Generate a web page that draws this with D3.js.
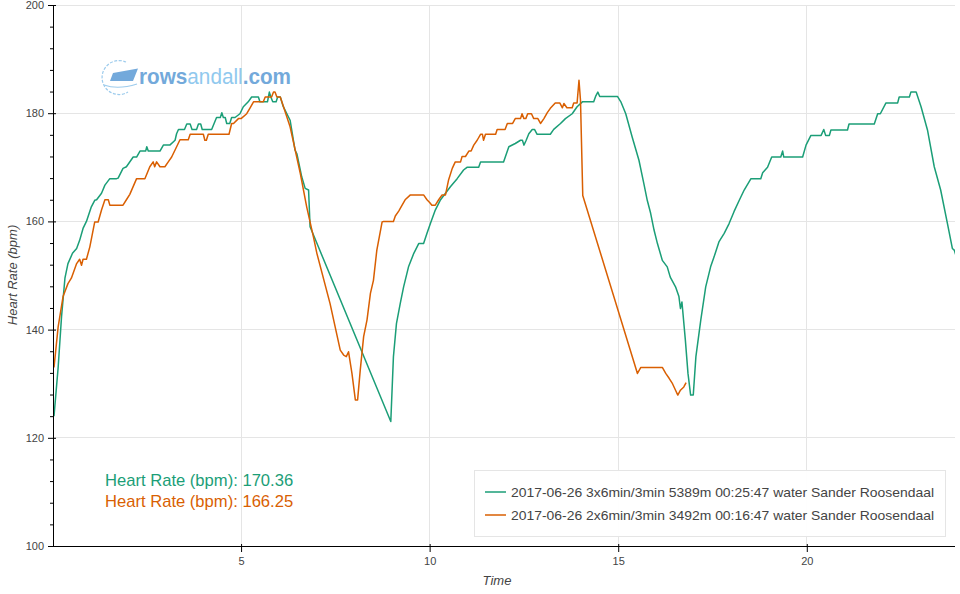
<!DOCTYPE html>
<html><head><meta charset="utf-8">
<script src="https://cdn.jsdelivr.net/npm/d3@7"></script>
<style>body{margin:0;background:#fff}svg{display:block}</style>
</head><body><svg id="c" width="960" height="594"></svg>
<script>
// ---- data (time in minutes, heart rate in bpm) ----
const greenT=[0.04,0.15,0.24,0.33,0.41,0.53,0.64,0.72,0.81,0.90,1.03,1.12,1.17,1.30,1.39,1.52,1.70,1.74,1.87,1.96,2.14,2.23,2.32,2.47,2.50,2.54,2.85,2.94,3.11,3.25,3.29,3.34,3.50,3.56,3.65,3.70,3.82,3.87,3.93,3.97,4.22,4.35,4.45,4.49,4.53,4.58,4.62,4.70,4.75,4.84,4.97,5.06,5.19,5.28,5.46,5.50,5.70,5.75,5.79,5.84,5.93,5.97,6.04,6.12,6.30,6.43,6.48,6.61,6.70,6.79,6.83,8.97,9.04,9.12,9.22,9.31,9.44,9.58,9.71,9.84,9.93,10.02,10.15,10.28,10.42,10.55,10.73,10.90,10.99,11.30,11.35,11.96,12.10,12.27,12.41,12.46,12.50,12.56,12.63,12.72,12.78,12.85,13.20,13.29,13.47,13.60,13.78,13.91,14.05,14.35,14.40,14.46,14.51,14.98,15.07,15.20,15.37,15.55,15.68,15.77,15.86,15.95,16.04,16.17,16.30,16.38,16.52,16.61,16.65,16.69,16.78,16.85,16.92,16.99,17.06,17.19,17.32,17.45,17.54,17.67,17.81,17.94,18.07,18.21,18.34,18.52,18.78,18.83,18.96,19.07,19.31,19.36,19.39,19.89,19.98,20.11,20.38,20.45,20.50,20.60,20.64,21.08,21.12,21.79,21.88,21.95,22.10,22.41,22.45,22.72,22.76,22.90,23.03,23.20,23.38,23.55,23.73,23.86,23.91,23.98];
const greenHR=[124,133,142.4,149.5,152.2,154.1,155,156.5,158.7,160,162.7,163.9,164,165.2,166.7,167.9,167.9,168,169.8,170.1,171.9,171.9,173.0,173.0,173.8,173.0,173.0,174.1,174.1,175.0,176.2,177.0,177.0,178.0,178.0,177.0,177.0,178.0,178.0,177.0,177.0,179.2,179.2,180.1,179.2,179.2,178.1,178.1,179.2,179.2,179.9,181.2,182.1,183.0,183.0,182.1,182.1,183.9,183.0,182.1,182.1,183.0,183.0,181.2,178.7,173.2,172.5,168.2,166.1,165.8,159.0,123.0,135.0,141.1,144.8,147.9,151.6,154.1,155.9,155.9,157.8,159.6,162.1,163.9,165.2,166.4,167.9,169.5,170.0,170.0,171.0,171.0,173.8,174.4,175.0,175.0,174.1,175.0,176.2,177.0,177.0,176.1,176.1,177.0,178.1,179.0,179.9,181.2,182.1,182.1,183.1,183.9,183.1,183.1,182.1,179.9,175.6,171.3,167.0,163.9,161.5,158.4,155.9,152.8,151.6,149.7,147.9,146.1,143.9,145.1,138.1,131.9,127.9,127.9,135.0,141.8,147.9,151.6,153.4,156.2,157.8,159.6,161.8,163.9,165.8,167.9,167.9,169.0,170.0,171.9,171.9,173.0,171.9,171.9,174.1,175.9,175.9,177.0,175.9,175.9,176.9,176.9,178.0,178.0,179.9,179.9,181.9,181.9,183.0,183.0,183.9,183.9,181.2,176.9,170.1,165.8,159.6,155.0,154.7,153.1];

const orangeT=[0.04,0.15,0.28,0.41,0.50,0.64,0.72,0.77,0.81,0.90,0.99,1.12,1.21,1.30,1.39,1.48,1.52,1.87,1.96,2.05,2.23,2.45,2.58,2.67,2.71,2.76,2.85,2.98,3.07,3.16,3.25,3.38,3.60,3.65,4.00,4.04,4.08,4.13,4.68,4.75,4.80,4.93,5.00,5.15,5.24,5.33,5.59,5.64,5.81,5.86,5.90,5.95,6.04,6.30,6.57,6.74,6.92,7.01,7.36,7.63,7.72,7.79,7.85,7.94,8.03,8.09,8.16,8.25,8.34,8.43,8.51,8.60,8.74,8.78,9.04,9.09,9.18,9.27,9.35,9.49,9.84,9.93,10.00,10.06,10.15,10.24,10.33,10.42,10.50,10.60,10.68,10.82,10.86,10.95,11.04,11.10,11.17,11.26,11.35,11.40,11.43,11.48,11.75,11.79,12.00,12.06,12.20,12.27,12.41,12.45,12.50,12.55,12.60,12.70,12.76,12.87,12.94,13.03,13.12,13.20,13.33,13.45,13.52,13.56,13.64,13.78,13.82,13.91,13.96,14.00,14.06,15.51,15.60,16.17,16.26,16.35,16.44,16.52,16.58,16.65,16.74,16.80];
const orangeHR=[133,140.5,146.1,148.5,149.5,152.2,153.0,151.9,153.0,153.0,155.3,159.9,159.9,162.1,164.0,164.0,163.0,163.0,164.0,165.0,167.9,167.9,170.1,171.0,170.1,171.0,170.1,170.1,171.0,171.9,173.2,175.1,175.1,176.1,176.1,175.0,175.0,176.1,176.1,178.1,178.1,179.0,179.0,179.9,181.0,182.1,182.1,183.0,183.0,183.9,183.9,183.0,183.0,177.5,168.9,162.7,157.1,154.1,144.8,136.2,135.3,135.0,135.9,131.9,127.0,127.0,132.5,138.7,141.8,146.7,149.1,154.7,159.9,160.0,160.0,161.0,161.9,163.0,164.0,164.9,164.9,164.0,163.5,163.0,163.0,164.0,164.9,164.9,167.6,169.8,171.0,171.0,172.0,172.0,173.0,173.0,174.1,175.0,176.1,176.1,175.0,176.1,176.1,177.0,177.0,178.1,178.1,179.0,179.0,179.9,179.0,179.0,179.9,179.9,179.0,179.0,178.1,179.0,180.1,180.9,181.9,181.9,181.0,181.8,181.0,181.0,181.9,181.9,186.1,182.4,164.8,131.9,133.0,133.0,131.9,131.0,130.0,128.8,127.9,128.8,129.4,130.2];

const xTicks=[5,10,15,20];
const yTicks=[100,120,140,160,180,200];
const seriesNames=["2017-06-26 3x6min/3min 5389m 00:25:47 water Sander Roosendaal","2017-06-26 2x6min/3min 3492m 00:16:47 water Sander Roosendaal"];
const seriesColors=["#1b9e77","#d95f02"];
const avgLabels=["Heart Rate (bpm): 170.36","Heart Rate (bpm): 166.25"];

// ---- drawing ----
const FONT="'Liberation Sans', Arial, Helvetica, sans-serif";
const svg=d3.select("#c");
const L=54,R=955,T=5,B=546;
const x=d3.scaleLinear().domain([0.04,23.93]).range([L,R]);
const y=d3.scaleLinear().domain([100,200]).range([B,T]);

// grid
const g=svg.append("g");
g.selectAll("line.gx").data(xTicks).join("line")
  .attr("x1",d=>x(d)).attr("x2",d=>x(d)).attr("y1",T).attr("y2",B)
  .attr("stroke","#e5e5e5").attr("stroke-width",1).attr("shape-rendering","crispEdges");
g.selectAll("line.gy").data(yTicks.filter(d=>d>100)).join("line")
  .attr("x1",L).attr("x2",R).attr("y1",d=>y(d)).attr("y2",d=>y(d))
  .attr("stroke","#e5e5e5").attr("stroke-width",1).attr("shape-rendering","crispEdges");

// logo
const logo=svg.append("g").attr("opacity",0.85);
logo.append("path").attr("d","M126,62 A17,17 0 1 0 128,92")
  .attr("fill","none").attr("stroke","#8cc3ea").attr("stroke-width",1.2).attr("stroke-dasharray","3,1.5");
logo.append("path").attr("d","M110,81 L113,73 L138,68.5 L133,81 Z").attr("fill","#5b9bd5");
logo.append("path").attr("d","M104,85 Q118,90 137,84").attr("fill","none").attr("stroke","#8cc3ea").attr("stroke-width",1.2);
const lt=logo.append("text").attr("x",139).attr("y",84).attr("font-family",FONT).attr("font-size",22)
  .attr("textLength",152).attr("lengthAdjust","spacingAndGlyphs");
lt.append("tspan").attr("fill","#5b9bd5").attr("font-weight","bold").text("rows");
lt.append("tspan").attr("fill","#7dc0ec").text("andall");
lt.append("tspan").attr("fill","#5b9bd5").attr("font-weight","bold").text(".com");

// lines
const clip=svg.append("clipPath").attr("id","clp").append("rect").attr("x",L).attr("y",T).attr("width",R-L).attr("height",B-T);
const line=d3.line().x(d=>x(d[0])).y(d=>y(d[1]));
const gData=greenT.map((t,i)=>[t,greenHR[i]]);
const oData=orangeT.map((t,i)=>[t,orangeHR[i]]);
const lg=svg.append("g").attr("clip-path","url(#clp)");
lg.append("path").datum(gData).attr("d",line).attr("fill","none").attr("stroke",seriesColors[0]).attr("stroke-width",1.5).attr("stroke-linejoin","round");
lg.append("path").datum(oData).attr("d",line).attr("fill","none").attr("stroke",seriesColors[1]).attr("stroke-width",1.5).attr("stroke-linejoin","round");

// axes
const ax=svg.append("g").attr("transform",`translate(0,${B})`);
ax.call(d3.axisBottom(x).tickValues(xTicks).tickSize(6).tickPadding(5).tickFormat(d3.format("d")));
ax.select(".domain").attr("d",`M${L},0.5H${R}`);
ax.selectAll(".tick line").attr("y1",-2).attr("y2",6);
const ay=svg.append("g").attr("transform",`translate(${L},0)`);
ay.call(d3.axisLeft(y).tickValues(yTicks).tickSize(6).tickPadding(4).tickFormat(d3.format("d")));
ay.select(".domain").attr("d",`M-0.5,${T}V${B}`);
ay.selectAll(".tick line").attr("x1",2).attr("x2",-6);
const minor=d3.range(100,201,4).filter(d=>d%20!==0);
ay.selectAll("line.minor").data(minor).join("line").attr("class","minor")
  .attr("x1",0).attr("x2",-4).attr("y1",d=>y(d)+0.5).attr("y2",d=>y(d)+0.5).attr("stroke","#000");
[ax,ay].forEach(a=>{a.selectAll("text").attr("font-family",FONT).attr("font-size",11).attr("fill","#444");
  a.selectAll("path,line").attr("stroke","#000");});

// axis labels
svg.append("text").attr("x",497).attr("y",585).attr("text-anchor","middle").attr("font-family",FONT)
  .attr("font-size",13).attr("font-style","italic").attr("fill","#444").text("Time");
svg.append("text").attr("transform","translate(17,275) rotate(-90)").attr("text-anchor","middle").attr("font-family",FONT)
  .attr("font-size",13).attr("font-style","italic").attr("fill","#444").text("Heart Rate (bpm)");

// annotations
avgLabels.forEach((s,i)=>{
  svg.append("text").attr("x",105).attr("y",486+i*21).attr("font-family",FONT).attr("font-size",16.6)
    .attr("fill",seriesColors[i]).text(s);
});

// legend
const leg=svg.append("g");
leg.append("rect").attr("x",474.5).attr("y",470.5).attr("width",471).attr("height",66)
  .attr("fill","#fff").attr("fill-opacity",0.95).attr("stroke","#e5e5e5");
seriesNames.forEach((s,i)=>{
  const yy=492+i*23;
  leg.append("line").attr("x1",485).attr("x2",506).attr("y1",yy).attr("y2",yy).attr("stroke",seriesColors[i]).attr("stroke-width",1.5);
  leg.append("text").attr("x",511).attr("y",yy+4.5).attr("font-family",FONT).attr("font-size",13.5)
    .attr("textLength",423).attr("lengthAdjust","spacingAndGlyphs").attr("fill","#444").text(s);
});
</script></body></html>
